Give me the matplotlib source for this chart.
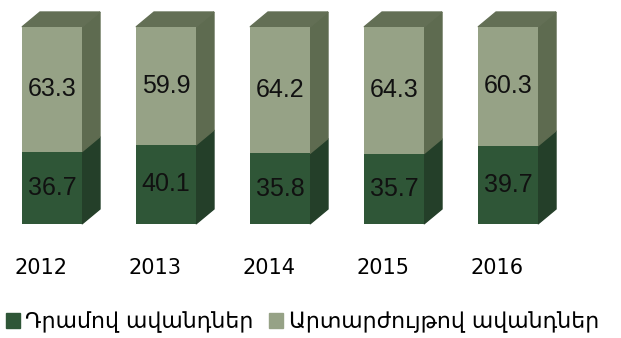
import matplotlib.pyplot as plt
from matplotlib.patches import Polygon, Patch

years = ['2012', '2013', '2014', '2015', '2016']
dram = [36.7, 40.1, 35.8, 35.7, 39.7]
fx = [63.3, 59.9, 64.2, 64.3, 60.3]
labels = ['Դրամով ավանդներ', 'Արտարժույթով ավանդներ']

dark_front, dark_side = '#2f5637', '#243f29'
light_front, light_side, light_top = '#96a286', '#5e6b50', '#636f55'

fig = plt.figure(figsize=(6.21, 3.38), dpi=100)
ax = fig.add_axes([0, 0, 1, 1])
ax.set_xlim(-0.456, 4.991)
ax.set_ylim(-57.9, 113.7)
ax.axis('off')

w = 0.526   # front face width
dx = 0.158  # depth offset x
dy = 7.6    # depth offset y

for i in range(len(years)):
    x0 = i - w / 2
    x1 = i + w / 2
    tot = dram[i] + fx[i]
    # front faces
    ax.bar(i, dram[i], w, color=dark_front, zorder=2)
    ax.bar(i, fx[i], w, bottom=dram[i], color=light_front, zorder=2)
    # side faces
    ax.add_patch(Polygon([(x1, 0), (x1 + dx, dy), (x1 + dx, dram[i] + dy), (x1, dram[i])],
                         closed=True, color=dark_side, zorder=1))
    ax.add_patch(Polygon([(x1, dram[i]), (x1 + dx, dram[i] + dy), (x1 + dx, tot + dy), (x1, tot)],
                         closed=True, color=light_side, zorder=1))
    # top face
    ax.add_patch(Polygon([(x0, tot), (x0 + dx, tot + dy), (x1 + dx, tot + dy), (x1, tot)],
                         closed=True, color=light_top, zorder=1))
    ax.text(i, dram[i] / 2, f'{dram[i]:.1f}', ha='center', va='center',
            fontsize=18, family='Liberation Sans', color='#111111', zorder=3)
    ax.text(i, dram[i] + fx[i] / 2, f'{fx[i]:.1f}', ha='center', va='center',
            fontsize=18, family='Liberation Sans', color='#111111', zorder=3)
    ax.text(i - 0.1, -22.3, years[i], ha='center', va='center', fontsize=15,
            color='#000000')

handles = [Patch(color=dark_front), Patch(color=light_front)]
ax.legend(handles, labels, loc='lower left', bbox_to_anchor=(-0.012, -0.025), ncol=2,
          frameon=False, fontsize=15.8, handlelength=0.65, handleheight=0.65,
          handletextpad=0.25, columnspacing=0.7, borderaxespad=0.2)

fig.savefig('out.png', dpi=100)
